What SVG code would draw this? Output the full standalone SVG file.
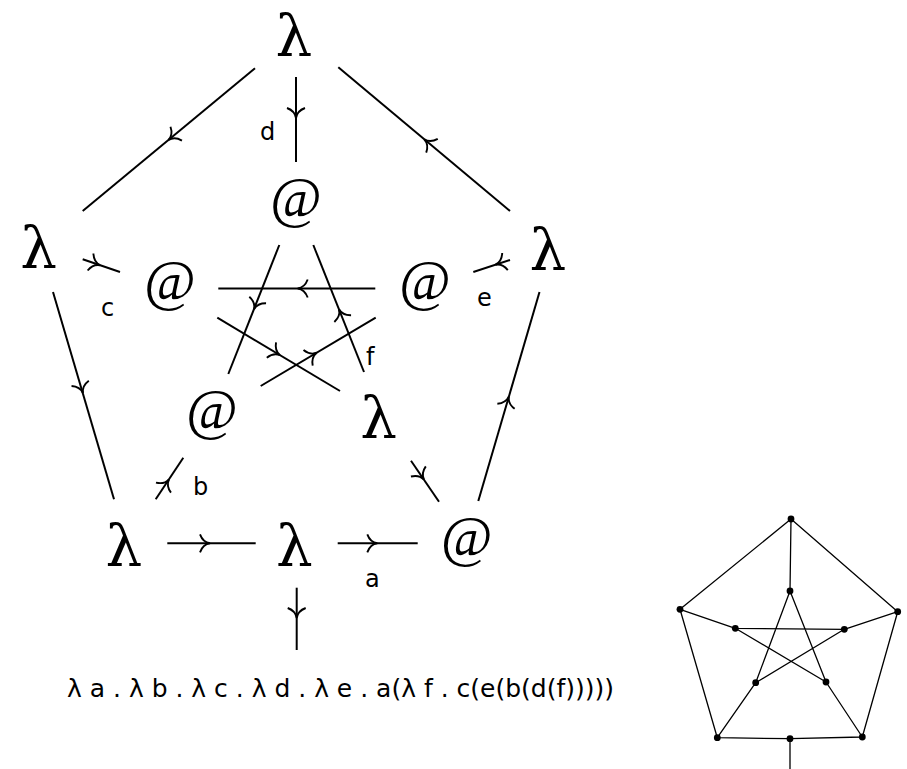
<svg xmlns="http://www.w3.org/2000/svg" xmlns:xlink="http://www.w3.org/1999/xlink" width="907" height="769" viewBox="0 0 907 769">
<style>
.bg{fill:#fff}
.sym{fill:#000;text-anchor:middle}
.lam{font-family:"DejaVu Serif",serif;font-size:58px}
.at{font-family:"Liberation Serif","Times New Roman",serif;font-size:56px}
.lbl{font-family:"DejaVu Sans",sans-serif;font-size:24px;fill:#000}
.formula{font-family:"DejaVu Sans",sans-serif;font-size:25px;fill:#000}
.e{stroke:#000;stroke-width:2;fill:none}
.g{stroke:#000;stroke-width:1.3;fill:none}
.dot{fill:#000}
</style>
<defs>
<path id="ah" d="M-10,-9 Q-7,-1 0,0 Q-7,1 -10,9" fill="none" stroke="#000" stroke-width="1.9"/>
</defs>
<rect class="bg" x="0" y="0" width="907" height="769"/>

<g id="connectors">
<line class="e" x1="255" y1="68.3" x2="82.7" y2="211"/>
<use xlink:href="#ah" transform="translate(168.5,140) rotate(140.4)"/>
<line class="e" x1="510" y1="211" x2="338.3" y2="67.3"/>
<use xlink:href="#ah" transform="translate(424.3,139.3) rotate(-140.1)"/>
<line class="e" x1="296" y1="77" x2="296" y2="162"/>
<use xlink:href="#ah" transform="translate(296,118) rotate(90)"/>
<line class="e" x1="82.7" y1="259.3" x2="120" y2="272"/>
<use xlink:href="#ah" transform="translate(100,265.2) rotate(18.8)"/>
<line class="e" x1="510" y1="260" x2="473.3" y2="272"/>
<use xlink:href="#ah" transform="translate(495.5,264.7) rotate(161.9)"/>
<line class="e" x1="53" y1="292" x2="114" y2="499.3"/>
<use xlink:href="#ah" transform="translate(83,393) rotate(73.6)"/>
<line class="e" x1="478.3" y1="501" x2="539.5" y2="292"/>
<use xlink:href="#ah" transform="translate(508.8,396.7) rotate(-73.7)"/>
<line class="e" x1="155.7" y1="499.3" x2="183.3" y2="457.7"/>
<use xlink:href="#ah" transform="translate(169,479.3) rotate(-56.4)"/>
<line class="e" x1="411" y1="460.7" x2="439" y2="501.7"/>
<use xlink:href="#ah" transform="translate(424,479.7) rotate(55.7)"/>
<line class="e" x1="167.3" y1="543.3" x2="255.7" y2="543.3"/>
<use xlink:href="#ah" transform="translate(210,543.3)"/>
<line class="e" x1="337.7" y1="543.3" x2="417.7" y2="543.3"/>
<use xlink:href="#ah" transform="translate(377.3,543.3)"/>
<line class="e" x1="296.7" y1="587.7" x2="296.7" y2="650"/>
<use xlink:href="#ah" transform="translate(296.7,618) rotate(90)"/>
<line class="e" x1="375.3" y1="288.5" x2="218.3" y2="288.5"/>
<use xlink:href="#ah" transform="translate(297.7,288.5) rotate(180)"/>
<line class="e" x1="279.3" y1="245" x2="228.3" y2="374"/>
<use xlink:href="#ah" transform="translate(254,309.3) rotate(111.6)"/>
<line class="e" x1="364" y1="372" x2="313.3" y2="245"/>
<use xlink:href="#ah" transform="translate(339,309.3) rotate(-111.8)"/>
<line class="e" x1="217.3" y1="317.7" x2="340" y2="391"/>
<use xlink:href="#ah" transform="translate(280,355.2) rotate(30.9)"/>
<line class="e" x1="260.7" y1="386" x2="375.7" y2="317.7"/>
<use xlink:href="#ah" transform="translate(316.7,352.7) rotate(-30.7)"/>
</g>

<g id="edge-labels">
<text class="lbl" x="260" y="140">d</text>
<text class="lbl" x="101" y="316">c</text>
<text class="lbl" x="477" y="306">e</text>
<text class="lbl" x="193" y="495">b</text>
<text class="lbl" x="366" y="365">f</text>
<text class="lbl" x="365" y="587">a</text>
</g>

<g id="n-top"><text class="sym lam" x="294" y="56">λ</text></g>
<g id="n-top-at"><text class="sym at" x="296" y="217">@</text></g>
<g id="n-left"><text class="sym lam" x="38.7" y="268">λ</text></g>
<g id="n-right"><text class="sym lam" x="548" y="270">λ</text></g>
<g id="n-left-at"><text class="sym at" x="170" y="300">@</text></g>
<g id="n-right-at"><text class="sym at" x="425" y="300">@</text></g>
<g id="n-lowleft-at"><text class="sym at" x="212" y="429">@</text></g>
<g id="n-lowright"><text class="sym lam" x="378.7" y="438">λ</text></g>
<g id="n-botleft"><text class="sym lam" x="124" y="566">λ</text></g>
<g id="n-botmid"><text class="sym lam" x="294.5" y="566">λ</text></g>
<g id="n-botright-at"><text class="sym at" x="466.7" y="556">@</text></g>

<g id="formula"><text class="formula" x="67" y="697">λ a . λ b . λ c . λ d . λ e . a(λ f . c(e(b(d(f)))))</text></g>

<g id="mini-graph">
<g id="mini-edges">
<path class="g" d="M791,519 L680,609.3 M791,519 L897.7,611.7 M791,519 L790,591 M680,609.3 L735.3,628.3 M897.7,611.7 L844.3,629.3 M680,609.3 L717.3,737.7 M897.7,611.7 L862.3,737 M717.3,737.7 L790,738.7 L862.3,737 M790,738.7 L790,769 M735.3,628.3 L844.3,629.3 M790,591 L755.7,682.7 M790,591 L826,682 M735.3,628.3 L826,682 M844.3,629.3 L755.7,682.7 M717.3,737.7 L755.7,682.7 M862.3,737 L826,682"/>
</g>
<g id="m1"><circle class="dot" cx="791" cy="519" r="3.4"/></g>
<g id="m2"><circle class="dot" cx="790" cy="591" r="3.4"/></g>
<g id="m3"><circle class="dot" cx="680" cy="609.3" r="3.4"/></g>
<g id="m4"><circle class="dot" cx="897.7" cy="611.7" r="3.4"/></g>
<g id="m5"><circle class="dot" cx="735.3" cy="628.3" r="3.4"/></g>
<g id="m6"><circle class="dot" cx="844.3" cy="629.3" r="3.4"/></g>
<g id="m7"><circle class="dot" cx="755.7" cy="682.7" r="3.4"/></g>
<g id="m8"><circle class="dot" cx="826" cy="682" r="3.4"/></g>
<g id="m9"><circle class="dot" cx="717.3" cy="737.7" r="3.4"/></g>
<g id="m10"><circle class="dot" cx="862.3" cy="737" r="3.4"/></g>
<g id="m11"><circle class="dot" cx="790" cy="738.7" r="3.4"/></g>
</g>
</svg>
